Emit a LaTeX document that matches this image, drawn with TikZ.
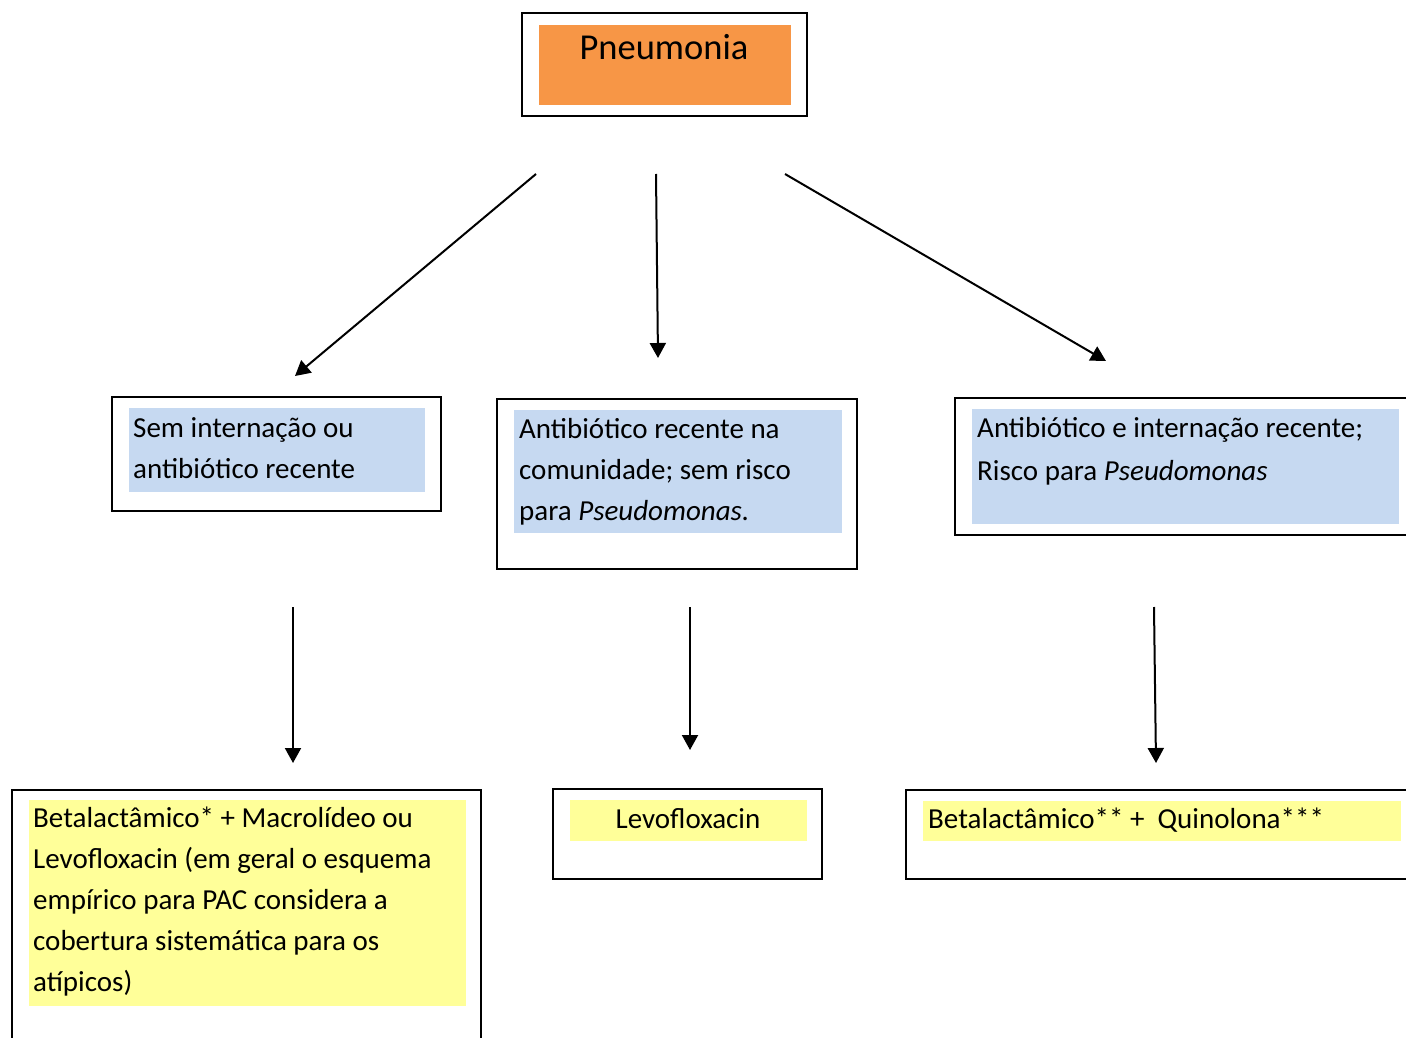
\documentclass[tikz,border=0pt]{standalone}
\usepackage{fontspec}
\setmainfont{Carlito}
\usetikzlibrary{arrows.meta}
\definecolor{orangefill}{HTML}{F79646}
\definecolor{bluefill}{HTML}{C6D9F1}
\definecolor{yellowfill}{HTML}{FFFF99}
\tikzset{
  outerbox/.style={draw=black, line width=1.8pt, fill=white},
  bodytext/.style={inner sep=0pt, anchor=base west, align=left, font=\fontsize{29}{41}\selectfont},
  arr/.style={line width=2pt, -{Triangle[length=15pt,width=16pt]}},
}
\begin{document}
\begin{tikzpicture}[x=1pt,y=-1pt]
\useasboundingbox (0,0) rectangle (1406,1038);
\clip (0,0) rectangle (1406,1038);
% Pneumonia
\draw[outerbox] (522,13) rectangle (807,116);
\fill[orangefill] (539,25) rectangle (791,105);
\node[inner sep=0pt, anchor=base, font=\fontsize{36.5}{44}\selectfont] (pn) at (664,60) {Pneumonia};
% Level 2 boxes (node base = last line's baseline)
\draw[outerbox] (112,397) rectangle (441,511);
\fill[bluefill] (129,408) rectangle (425,492);
\node[bodytext] (s1) at (133,478) {Sem internação ou\\antibiótico recente};

\draw[outerbox] (497,399) rectangle (857,569);
\fill[bluefill] (514,410) rectangle (842,533);
\node[bodytext] (s2) at (519,520) {Antibiótico recente na\\comunidade; sem risco\\para \textit{Pseudomonas.}};

\draw[outerbox] (955,398) rectangle (1420,535);
\fill[bluefill] (972,409) rectangle (1399,524);
\node[bodytext, font=\fontsize{29}{43}\selectfont] (s3) at (977,480) {Antibiótico e internação recente;\\Risco para \textit{Pseudomonas}};
% Level 3 boxes
\draw[outerbox] (12,790) rectangle (481,1050);
\fill[yellowfill] (29,800) rectangle (466,1006);
\node[bodytext] (t1) at (33,991) {Betalactâmico* + Macrolídeo ou\\Levofloxacin (em geral o esquema\\empírico para PAC considera a\\cobertura sistemática para os\\atípicos)};

\draw[outerbox] (553,789) rectangle (822,879);
\fill[yellowfill] (570,800) rectangle (807,841);
\node[inner sep=0pt, anchor=base, font=\fontsize{29}{41}\selectfont] (t2) at (688,828) {Levofloxacin};

\draw[outerbox] (906,790) rectangle (1420,879);
\fill[yellowfill] (923,801) rectangle (1401,841);
\node[bodytext] (t3) at (928,828) {Betalactâmico** +\ \ Quinolona***};
% Arrow endpoints
\coordinate (a1s) at (536,174); \coordinate (a1e) at (295,376);
\coordinate (a2s) at (656,174); \coordinate (a2e) at (658,358);
\coordinate (a3s) at (785,174); \coordinate (a3e) at (1106,361);
\coordinate (b1s) at (293,607); \coordinate (b1e) at (293,763);
\coordinate (b2s) at (690,607); \coordinate (b2e) at (690,750);
\coordinate (b3s) at (1154,607); \coordinate (b3e) at (1156,763);
\draw[arr] (a1s) -- (a1e);
\draw[arr] (a2s) -- (a2e);
\draw[arr] (a3s) -- (a3e);
\draw[arr] (b1s) -- (b1e);
\draw[arr] (b2s) -- (b2e);
\draw[arr] (b3s) -- (b3e);
\end{tikzpicture}
\end{document}
